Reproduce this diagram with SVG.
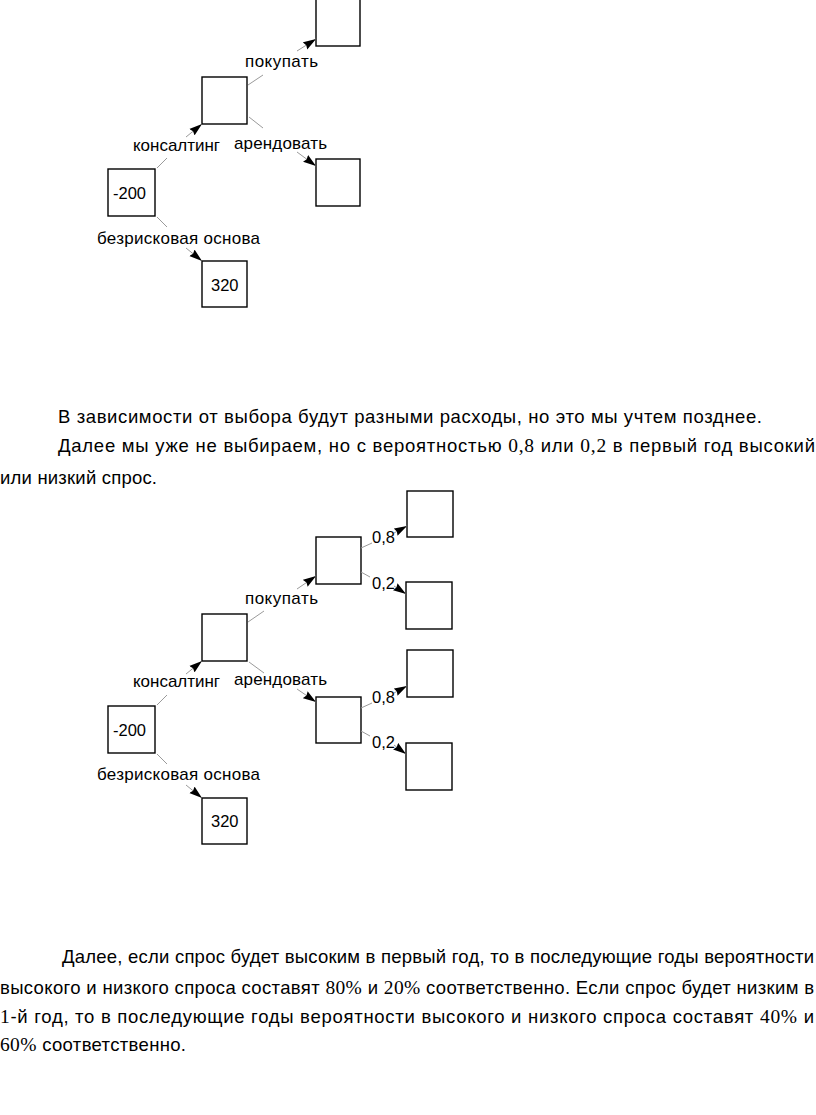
<svg xmlns="http://www.w3.org/2000/svg" width="816" height="1115" viewBox="0 0 816 1115">
<style>
.box{fill:#fff;stroke:#000;stroke-width:1.4}
.g{stroke:#9a9a9a;stroke-width:1;fill:none}
.a{stroke:#9a9a9a;stroke-width:1;fill:none;marker-end:url(#ah)}
.lbl{font-family:"Liberation Sans",Arial,sans-serif;font-size:17px;fill:#000}
.val{font-family:"Liberation Sans",Arial,sans-serif;font-size:16.5px;fill:#000}
.p{font-family:"Liberation Sans",Arial,sans-serif;font-size:18.5px;fill:#000}
.n{font-family:"Liberation Serif","Times New Roman",serif;font-size:19.5px}
</style>
<defs>
<marker id="ah" markerUnits="userSpaceOnUse" viewBox="0 0 13 9" markerWidth="13" markerHeight="9" refX="13" refY="4.5" orient="auto">
<path d="M0,0.3 L13,4.5 L0,8.7 L1.5,4.5 z" fill="#000"/>
</marker>
</defs>

<!-- Diagram 1 nodes -->
<g id="d1-start"><rect class="box" x="108" y="169" width="47" height="47"/><text class="val" x="113" y="199">-200</text></g>
<g id="d1-consult"><rect class="box" x="202" y="77" width="45" height="47"/></g>
<g id="d1-buy"><rect class="box" x="316" y="-1" width="44" height="47"/></g>
<g id="d1-rent"><rect class="box" x="316" y="159" width="44" height="47"/></g>
<g id="d1-base"><rect class="box" x="202" y="261" width="45" height="46"/><text class="val" x="211" y="291">320</text></g>

<!-- Diagram 2 nodes -->
<g id="d2-start"><rect class="box" x="108" y="706" width="47" height="47"/><text class="val" x="113" y="736">-200</text></g>
<g id="d2-consult"><rect class="box" x="202" y="614" width="45" height="47"/></g>
<g id="d2-buy"><rect class="box" x="316" y="537" width="45" height="47"/></g>
<g id="d2-rent"><rect class="box" x="316" y="697" width="45" height="46"/></g>
<g id="d2-buy-high"><rect class="box" x="407" y="491" width="46" height="46"/></g>
<g id="d2-buy-low"><rect class="box" x="406" y="582" width="46" height="47"/></g>
<g id="d2-rent-high"><rect class="box" x="407" y="650" width="46" height="47"/></g>
<g id="d2-rent-low"><rect class="box" x="406" y="743" width="46" height="47"/></g>
<g id="d2-base"><rect class="box" x="202" y="798" width="45" height="46"/><text class="val" x="211" y="827">320</text></g>

<g id="connectors">
<!-- Diagram 1 -->
<line class="g" x1="248" y1="85" x2="263" y2="75"/><line class="a" x1="297" y1="51" x2="316" y2="39"/>
<text class="lbl" x="245" y="67" textLength="73">покупать</text>
<line class="g" x1="249" y1="117" x2="263" y2="128"/><line class="a" x1="297" y1="152" x2="316" y2="166"/>
<text class="lbl" x="234" y="149" textLength="93">арендовать</text>
<line class="g" x1="157" y1="168" x2="167" y2="158"/><line class="a" x1="186" y1="137" x2="202" y2="124"/>
<text class="lbl" x="133" y="151" textLength="87">консалтинг</text>
<line class="g" x1="157" y1="217" x2="167" y2="227"/><line class="a" x1="186" y1="248" x2="202" y2="261"/>
<text class="lbl" x="97" y="244" textLength="163">безрисковая основа</text>
<!-- Diagram 2 -->
<line class="g" x1="248" y1="622" x2="264" y2="611"/><line class="a" x1="297" y1="589" x2="316" y2="576"/>
<text class="lbl" x="245" y="604" textLength="73">покупать</text>
<line class="g" x1="249" y1="662" x2="264" y2="673"/><line class="a" x1="297" y1="689" x2="316" y2="702"/>
<text class="lbl" x="234" y="685" textLength="93">арендовать</text>
<line class="g" x1="157" y1="705" x2="167" y2="695"/><line class="a" x1="186" y1="674" x2="202" y2="661"/>
<text class="lbl" x="133" y="687" textLength="87">консалтинг</text>
<line class="g" x1="157" y1="754" x2="167" y2="764"/><line class="a" x1="186" y1="785" x2="202" y2="798"/>
<text class="lbl" x="97" y="780" textLength="163">безрисковая основа</text>
<line class="g" x1="361" y1="548" x2="372" y2="543"/><line class="a" x1="394" y1="533" x2="407" y2="526"/>
<text class="val" x="372" y="543">0,8</text>
<line class="g" x1="361" y1="572" x2="370" y2="577"/><line class="a" x1="394" y1="586" x2="406" y2="594"/>
<text class="val" x="372" y="589">0,2</text>
<line class="g" x1="361" y1="708" x2="372" y2="703"/><line class="a" x1="394" y1="693" x2="407" y2="686"/>
<text class="val" x="372" y="703">0,8</text>
<line class="g" x1="361" y1="731" x2="370" y2="736"/><line class="a" x1="394" y1="745" x2="406" y2="754"/>
<text class="val" x="372" y="748">0,2</text>
</g>

<g id="text1">
<text class="p" x="58" y="423" textLength="704">В зависимости от выбора будут разными расходы, но это мы учтем позднее.</text>
<text class="p" x="58" y="452" textLength="757">Далее мы уже не выбираем, но с вероятностью <tspan class="n">0,8</tspan> или <tspan class="n">0,2</tspan> в первый год высокий</text>
<text class="p" x="0" y="484" textLength="157">или низкий спрос.</text>
</g>
<g id="text2">
<text class="p" x="62" y="963" textLength="752">Далее, если спрос будет высоким в первый год, то в последующие годы вероятности</text>
<text class="p" x="0" y="994" textLength="814">высокого и низкого спроса составят <tspan class="n">80%</tspan> и <tspan class="n">20%</tspan> соответственно. Если спрос будет низким в</text>
<text class="p" x="0" y="1023" textLength="814"><tspan class="n">1</tspan>-й год, то в последующие годы вероятности высокого и низкого спроса составят <tspan class="n">40%</tspan> и</text>
<text class="p" x="0" y="1051" textLength="186"><tspan class="n">60%</tspan> соответственно.</text>
</g>
</svg>
